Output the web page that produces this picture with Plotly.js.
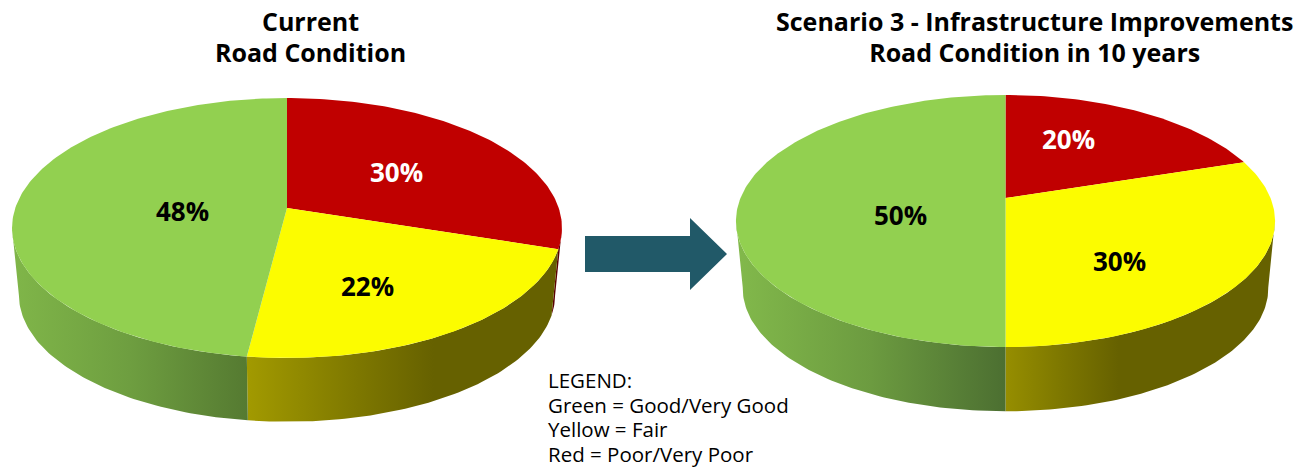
<!DOCTYPE html>
<html><head><meta charset="utf-8">
<script src="https://cdn.plot.ly/plotly-3.0.1.min.js"></script>
<style>html,body{margin:0;padding:0;background:#fff}#c{width:1309px;height:467px}</style>
</head><body><div id="c"></div>
<script>
const categories = ['Poor/Very Poor', 'Fair', 'Good/Very Good'];
const currentValues = [30, 22, 48];
const scenarioValues = [20, 30, 50];
const titles = [['Current', 'Road Condition'], ['Scenario 3 - Infrastructure Improvements', 'Road Condition in 10 years']];
const legendLines = ['LEGEND:', 'Green = Good/Very Good', 'Yellow = Fair', 'Red = Poor/Very Poor'];

const topColors = ['#C00000', '#FCFC00', '#92D050'];
const FF = '"Open Sans", sans-serif';

// projection of a tilted circle onto the page
const leftPie = {cx:287, cy:208, s:271.7, a:126.9, k:0.1538, drop:67.5, shrink:0.975};
const rightPie = {cx:1005.5, cy:198, s:265, a:121.8, k:0.1825, drop:68, shrink:0.975};

function pt(p, deg, bottom) {
  const t = deg * Math.PI / 180, u = Math.sin(t), v = Math.cos(t), d = 1 + p.k * v;
  const f = bottom ? p.shrink : 1;
  return [p.cx + f * p.s * u / d, p.cy + (bottom ? p.drop : 0) - f * p.a * v / d];
}
function arc(p, a0, a1, bottom) {
  const n = Math.max(2, Math.ceil(Math.abs(a1 - a0))), out = [];
  for (let i = 0; i <= n; i++) out.push(pt(p, a0 + (a1 - a0) * i / n, bottom));
  return out;
}
function poly(pts, name, extra) {
  return Object.assign({type:'scatter', mode:'lines', fill:'toself', name, showlegend:false, hoverinfo:'skip',
    x:pts.map(q=>q[0]), y:pts.map(q=>q[1]), line:{width:0}}, extra);
}
function wall(p, a0, a1, name, stops) {
  const pts = arc(p, a0, a1, true).concat(arc(p, a1, a0, false));
  return poly(pts, name, {fillgradient:{type:'horizontal', colorscale:stops}, fillcolor:stops[0][1]});
}
function pie(p, values, wallDefs) {
  const traces = [];
  const total = values.reduce((s,v)=>s+v,0);
  const start = [], end = [];
  let acc = 0;
  values.forEach(v => { start.push(acc/total*360); acc += v; end.push(acc/total*360); });
  wallDefs.forEach(w => {
    const i = w.i;
    traces.push(wall(p, w.from === undefined ? start[i] : w.from, w.to === undefined ? end[i] : w.to, categories[i] + ' side', w.stops));
  });
  values.forEach((v, i) => {
    const pts = [[p.cx, p.cy]].concat(arc(p, start[i], end[i], false));
    pts.push([p.cx, p.cy]);
    traces.push(poly(pts, categories[i], {fillcolor:topColors[i]}));
  });
  return traces;
}

const data = [].concat(
  pie(leftPie, currentValues, [
    {i:0, from:99, stops:[[0,'#5a0000'],[1,'#5a0000']]},
    {i:1, stops:[[0,'#A29A00'],[0.35,'#7E7800'],[0.6,'#666100'],[1,'#666100']]},
    {i:2, to:261, stops:[[0,'#80B649'],[0.5,'#6E9E40'],[1,'#557A31']]}
  ]),
  pie(rightPie, scenarioValues, [
    {i:1, from:100, stops:[[0,'#968E00'],[0.2,'#7E7800'],[0.42,'#666100'],[1,'#666100']]},
    {i:2, to:260, stops:[[0,'#82B94B'],[0.5,'#6C9B40'],[1,'#4C6F31']]}
  ])
);

function pctNote(x, y, v, color) {
  return {x, y, xref:'x', yref:'y', text:'<b>'+v+'%</b>', showarrow:false, xanchor:'center', yanchor:'middle',
    font:{family:FF, size:26, color}};
}
// the base font size sets the line spacing, the span sets the glyph size
function lines(list, px) {
  return list.map(t => '<span style="font-size:'+px+'px">'+t+'</span>').join('<br>');
}
const annotations = [
  pctNote(396.5, 172, currentValues[0], '#fff'),
  pctNote(367.5, 286, currentValues[1], '#000'),
  pctNote(182, 211, currentValues[2], '#000'),
  pctNote(1068.5, 139, scenarioValues[0], '#fff'),
  pctNote(1119.5, 261, scenarioValues[1], '#000'),
  pctNote(900.5, 215, scenarioValues[2], '#000'),
  {x:310, y:36, xref:'x', yref:'y', text:'<b>'+lines(titles[0], 25)+'</b>', showarrow:false, xanchor:'center', yanchor:'middle',
    font:{family:FF, size:23.8, color:'#000'}},
  {x:1034, y:36, xref:'x', yref:'y', text:'<b>'+lines(titles[1], 25)+'</b>', showarrow:false, xanchor:'center', yanchor:'middle',
    font:{family:FF, size:23.8, color:'#000'}},
  {x:546, y:416.5, xref:'x', yref:'y', text:lines(legendLines, 20.5), showarrow:false, align:'left',
    xanchor:'left', yanchor:'middle', font:{family:FF, size:19, color:'#000'}}
];

const layout = {
  width:1309, height:467, margin:{l:0,r:0,t:0,b:0}, paper_bgcolor:'#fff', plot_bgcolor:'#fff', showlegend:false,
  xaxis:{range:[0,1309], visible:false, fixedrange:true},
  yaxis:{range:[467,0], visible:false, fixedrange:true},
  shapes:[{type:'path', xref:'x', yref:'y', path:'M585 236 L690 236 L690 218 L727 254 L690 290 L690 272 L585 272 Z',
    fillcolor:'#215968', line:{width:0}}],
  annotations
};
Plotly.newPlot('c', data, layout, {displayModeBar:false, staticPlot:true});
</script></body></html>
